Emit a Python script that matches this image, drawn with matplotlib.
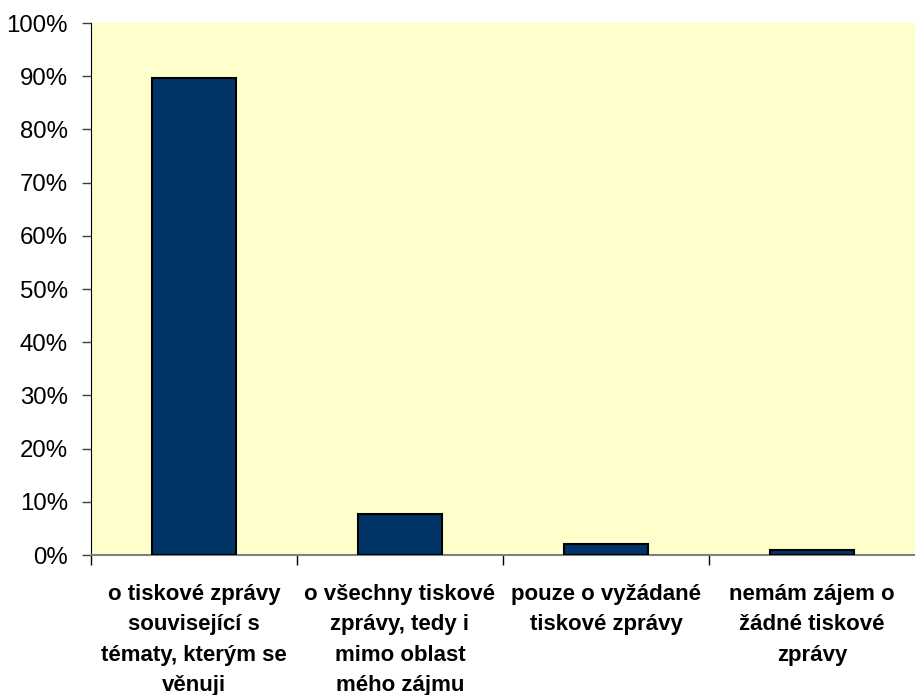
import matplotlib
matplotlib.use("Agg")
from matplotlib import pyplot as plt
from matplotlib.ticker import FixedLocator

# data
categories = [
    "o tiskové zprávy\nsouvisející s\ntématy, kterým se\nvěnuji",
    "o všechny tiskové\nzprávy, tedy i\nmimo oblast\nmého zájmu",
    "pouze o vyžádané\ntiskové zprávy",
    "nemám zájem o\nžádné tiskové\nzprávy",
]
values = [89.7, 7.8, 2.0, 0.9]
yticks = [0, 10, 20, 30, 40, 50, 60, 70, 80, 90, 100]
ytick_labels = ["%d%%" % t for t in yticks]

plt.rcParams['font.family'] = ['Liberation Sans', 'DejaVu Sans']

fig = plt.figure(figsize=(9.15, 6.95), dpi=100)
ax = fig.add_axes([91 / 915, 140 / 695, 1 - 91 / 915, (555 - 23) / 695])
ax.set_facecolor("#FFFFCC")

pos = list(range(len(values)))
ax.bar(pos, values, width=0.41, color="#003366", edgecolor="black", linewidth=1.5, zorder=3)

ax.set_xlim(-0.5, 3.5)
ax.set_ylim(0, 100)
ax.set_yticks(yticks)
ax.set_yticklabels(ytick_labels, fontsize=17.3)

# boundaries get the ticks, categories get the labels
ax.xaxis.set_major_locator(FixedLocator([-0.5, 0.5, 1.5, 2.5]))
ax.xaxis.set_major_formatter(plt.NullFormatter())
ax.xaxis.set_minor_locator(FixedLocator(pos))
ax.set_xticklabels(categories, minor=True, fontsize=16, fontweight="bold", linespacing=1.58, va="top")
ax.tick_params(axis="x", which="minor", length=0, pad=21)
ax.tick_params(axis="x", which="major", length=7, width=1, color="black", direction="out")
ax.tick_params(axis="y", length=6.5, width=1, color="#404040", pad=10)

for s in ["top", "right"]:
    ax.spines[s].set_visible(False)
ax.spines["left"].set_color("black")
ax.spines["bottom"].set_color("#808080")
ax.spines["bottom"].set_linewidth(1.5)

plt.savefig("out.png", dpi=100)
